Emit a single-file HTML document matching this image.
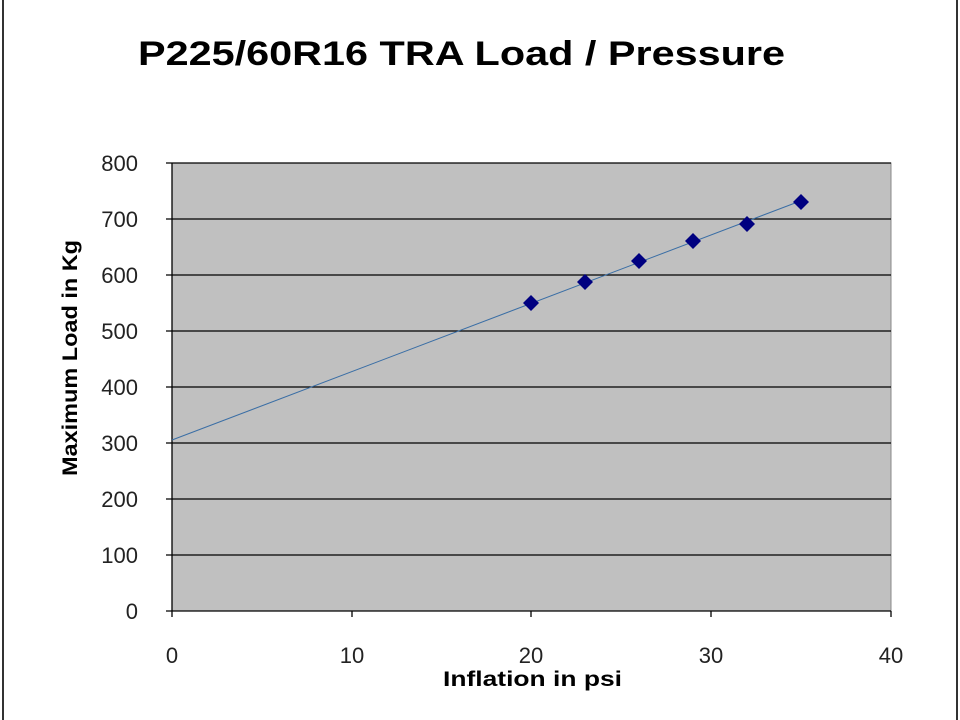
<!DOCTYPE html>
<html><head><meta charset="utf-8"><style>
html,body{margin:0;padding:0;background:#fff;}
svg{display:block;}
text{font-family:"Liberation Sans",Arial,sans-serif;}
</style></head><body>
<svg width="960" height="720" viewBox="0 0 960 720">
<rect x="3" y="-2" width="954" height="724" fill="#fff" stroke="#333" stroke-width="2"/>
<text x="138" y="65" font-size="34" font-weight="bold" textLength="647" lengthAdjust="spacingAndGlyphs" fill="#000">P225/60R16 TRA  Load / Pressure</text>
<rect x="172" y="163" width="719" height="448" fill="#c0c0c0" stroke="#888" stroke-width="1"/>
<g stroke="#000" stroke-width="1.3">
<line x1="166" y1="163" x2="891" y2="163"/>
<line x1="166" y1="219" x2="891" y2="219"/>
<line x1="166" y1="275" x2="891" y2="275"/>
<line x1="166" y1="331" x2="891" y2="331"/>
<line x1="166" y1="387" x2="891" y2="387"/>
<line x1="166" y1="443" x2="891" y2="443"/>
<line x1="166" y1="499" x2="891" y2="499"/>
<line x1="166" y1="555" x2="891" y2="555"/>
<line x1="166" y1="611" x2="891" y2="611"/>
<line x1="172" y1="163" x2="172" y2="611"/>
<line x1="172" y1="611" x2="172" y2="617"/>
<line x1="352" y1="611" x2="352" y2="617"/>
<line x1="531" y1="611" x2="531" y2="617"/>
<line x1="711" y1="611" x2="711" y2="617"/>
<line x1="891" y1="611" x2="891" y2="617"/>
</g>
<g font-size="22" fill="#222" text-anchor="end">
<text x="138" y="171">800</text><text x="138" y="227">700</text><text x="138" y="283">600</text>
<text x="138" y="339">500</text><text x="138" y="395">400</text><text x="138" y="451">300</text>
<text x="138" y="507">200</text><text x="138" y="563">100</text><text x="138" y="619">0</text>
</g>
<g font-size="22" fill="#222" text-anchor="middle">
<text x="172" y="663">0</text><text x="352" y="663">10</text><text x="531" y="663">20</text>
<text x="711" y="663">30</text><text x="891" y="663">40</text>
</g>
<text x="443" y="686" font-size="21" font-weight="bold" textLength="179" lengthAdjust="spacingAndGlyphs">Inflation in psi</text>
<text transform="translate(77,476) rotate(-90)" font-size="21" font-weight="bold" textLength="236" lengthAdjust="spacingAndGlyphs">Maximum Load in Kg</text>
<line x1="172" y1="440" x2="803" y2="200" stroke="#3a6ea5" stroke-width="1"/>
<g fill="#000080">
<path d="M531 295 l8 8 l-8 8 l-8 -8z"/>
<path d="M585 274 l8 8 l-8 8 l-8 -8z"/>
<path d="M639 253 l8 8 l-8 8 l-8 -8z"/>
<path d="M693 233 l8 8 l-8 8 l-8 -8z"/>
<path d="M747 216 l8 8 l-8 8 l-8 -8z"/>
<path d="M801 194 l8 8 l-8 8 l-8 -8z"/>
</g>
</svg>
</body></html>
